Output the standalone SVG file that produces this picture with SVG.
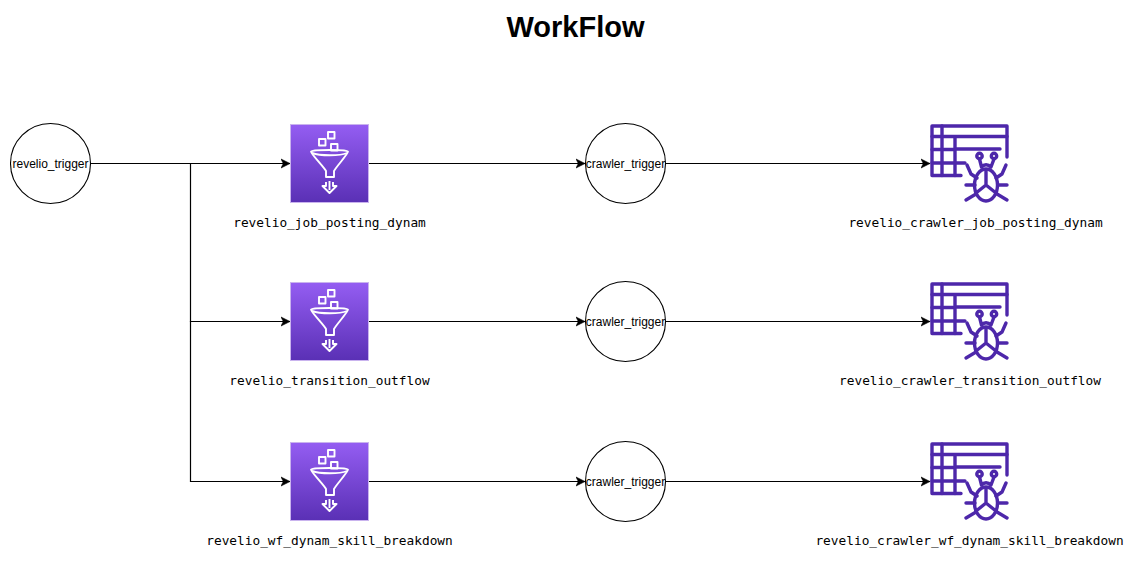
<svg xmlns="http://www.w3.org/2000/svg" width="1140" height="561" viewBox="0 0 1140 561">
<style>
.c{fill:#fff;stroke:#000;stroke-width:1.1}
.e{fill:none;stroke:#000;stroke-width:1.2}
.l{font-family:"Liberation Sans",Arial,sans-serif;font-size:12px;fill:#000;text-anchor:middle}
.m{font-family:"DejaVu Sans Mono","Liberation Mono",monospace;font-size:12.8px;fill:#000;text-anchor:middle}
.t{font-family:"Liberation Sans",Arial,sans-serif;font-size:29px;font-weight:bold;fill:#000;text-anchor:middle}
.w{fill:none;stroke:#fff;stroke-width:1.9;stroke-linejoin:round}
.p{fill:none;stroke:#4d27aa;stroke-width:3.4;stroke-linejoin:round;stroke-linecap:round}
</style>
<defs>
<linearGradient id="g" x1="0" y1="1" x2="0" y2="0"><stop offset="0" stop-color="#5a30b5"/><stop offset="1" stop-color="#945df2"/></linearGradient>
<marker id="a" markerUnits="userSpaceOnUse" markerWidth="12" markerHeight="12" refX="9" refY="5.500" orient="auto"><path d="M0 1L9 5.500L0 10L2.300 5.500Z" fill="#000" stroke="#000" stroke-width="0.6"/></marker>
<symbol id="glue" width="80" height="80" viewBox="0 0 80 80" overflow="visible">
<rect x="0.500" y="0.500" width="78" height="78" fill="url(#g)" stroke="#c9b3ee" stroke-width="1"/>
<rect x="38" y="8" width="6.500" height="6.500" class="w"/><rect x="29" y="15" width="6.500" height="6.500" class="w"/><rect x="41" y="20" width="6.500" height="6.500" class="w"/>
<path class="w" d="M21 27.500C21 25.500 58 25.500 58 27.500C58 30 46 43 44 47V53H36V47C34 43 21 30 21 27.500Z"/>
<path class="w" d="M22 29C30 32 50 32 57 29"/>
<path class="w" d="M39.500 57V66M36 58V62H32.500L39.500 69L46.500 62H43V58"/>
</symbol>
<symbol id="crawl" width="80" height="80" viewBox="0 0 80 80" overflow="visible">
<path class="p" d="M77 33V2H2V51.500H31"/>
<path class="p" d="M2 12.500H77M2 25.500H24M26 25H70M2 39H35M12 2V51.500M25 12.500V51.500"/>
<ellipse class="p" cx="56" cy="61" rx="11.500" ry="16"/>
<path class="p" d="M56 47V61L46 69M56 61L66 69"/>
<circle class="p" cx="49.500" cy="32" r="2.700"/><circle class="p" cx="64" cy="32" r="2.700"/>
<path class="p" d="M49.500 35L51.500 43C54 40 58 40 61 43L64 35"/>
<path class="p" d="M37 41L41 50L47 54M76 41L72 50L66 54M36 61H45M77 61H68M36 76L46 70M77 76L67 70"/>
</symbol>
</defs>
<text class="t" x="575.500" y="37">WorkFlow</text>
<g id="connectors">
<path class="e" d="M90 163.500H290" marker-end="url(#a)"/>
<path class="e" d="M190.500 163.500V321.500H290" marker-end="url(#a)"/>
<path class="e" d="M190.500 321V481.500H290" marker-end="url(#a)"/>
<path class="e" d="M369 163.500H585" marker-end="url(#a)"/>
<path class="e" d="M369 321.500H585" marker-end="url(#a)"/>
<path class="e" d="M369 481.500H585" marker-end="url(#a)"/>
<path class="e" d="M665 163.500H930" marker-end="url(#a)"/>
<path class="e" d="M665 321.500H930" marker-end="url(#a)"/>
<path class="e" d="M665 481.500H930" marker-end="url(#a)"/>
</g>
<g id="revelio_trigger"><circle class="c" cx="50.500" cy="163.500" r="40"/><text class="l" x="50.500" y="167.500">revelio_trigger</text></g>
<g id="job1"><use href="#glue" x="290" y="124"/><text class="m" x="329.500" y="227">revelio_job_posting_dynam</text></g>
<g id="job2"><use href="#glue" x="290" y="282"/><text class="m" x="329.500" y="385">revelio_transition_outflow</text></g>
<g id="job3"><use href="#glue" x="290" y="442"/><text class="m" x="329.500" y="545">revelio_wf_dynam_skill_breakdown</text></g>
<g id="crawler_trigger1"><circle class="c" cx="625.500" cy="163.500" r="40" style="fill:none"/><text class="l" x="625.500" y="167.500">crawler_trigger</text></g>
<g id="crawler_trigger2"><circle class="c" cx="625.500" cy="321.500" r="40" style="fill:none"/><text class="l" x="625.500" y="325.500">crawler_trigger</text></g>
<g id="crawler_trigger3"><circle class="c" cx="625.500" cy="481.500" r="40" style="fill:none"/><text class="l" x="625.500" y="485.500">crawler_trigger</text></g>
<g id="crawler1"><use href="#crawl" x="930" y="124"/><text class="m" x="975.500" y="227">revelio_crawler_job_posting_dynam</text></g>
<g id="crawler2"><use href="#crawl" x="930" y="282"/><text class="m" x="970" y="385">revelio_crawler_transition_outflow</text></g>
<g id="crawler3"><use href="#crawl" x="930" y="442"/><text class="m" x="969.500" y="545">revelio_crawler_wf_dynam_skill_breakdown</text></g>
</svg>
